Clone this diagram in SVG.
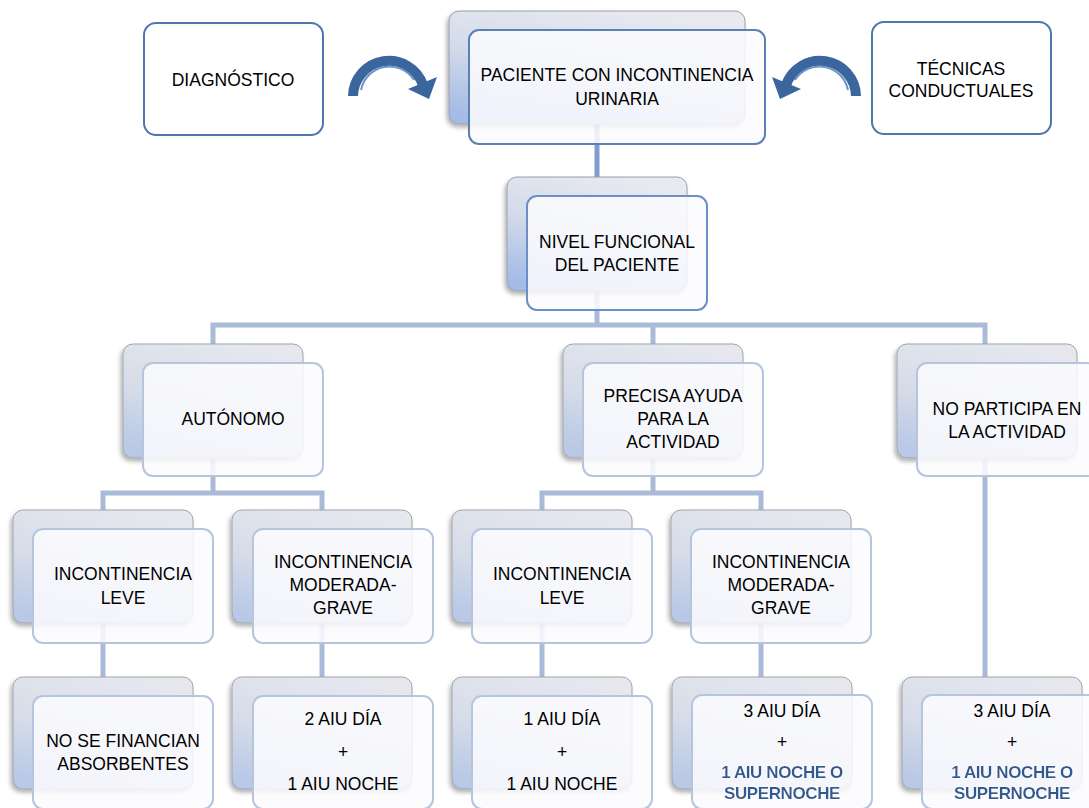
<svg xmlns="http://www.w3.org/2000/svg" width="1089" height="808" viewBox="0 0 1089 808">
<defs>
<linearGradient id="gBackStrong" x1="0.65" y1="0" x2="0.25" y2="1">
<stop offset="0" stop-color="#e8eaf0"/>
<stop offset="0.5" stop-color="#d2daea"/>
<stop offset="1" stop-color="#a3bbe6"/>
</linearGradient>
<linearGradient id="gBack" x1="0.65" y1="0" x2="0.25" y2="1">
<stop offset="0" stop-color="#e6e8ee"/>
<stop offset="0.55" stop-color="#d5dbe8"/>
<stop offset="1" stop-color="#b8c8e6"/>
</linearGradient>
<filter id="sh" x="-10%" y="-10%" width="120%" height="130%">
<feDropShadow dx="-2" dy="3" stdDeviation="2" flood-color="#000" flood-opacity="0.3"/>
</filter>
<filter id="glow" x="-10%" y="-30%" width="120%" height="160%">
<feDropShadow dx="0" dy="0" stdDeviation="1" flood-color="#ffffff" flood-opacity="1"/>
</filter>
</defs>
<style>
.back{fill:url(#gBack);stroke:#a0a4ad;stroke-width:1;filter:url(#sh)}
.backS{fill:url(#gBackStrong);stroke:#9a9ea8;stroke-width:1;filter:url(#sh)}
.front{fill:#fbfcfe;fill-opacity:0.86;stroke:#b6c5de;stroke-width:2}
.frontS{fill:#fbfcfe;fill-opacity:0.86;stroke:#5b80b6;stroke-width:2}
.side{fill:#ffffff;stroke:#4f77ad;stroke-width:2}
text{font-family:"Liberation Sans",Arial,sans-serif;font-size:17.5px;fill:#000;text-anchor:middle}
.b{font-weight:bold;fill:#2f5a92;font-size:17px;letter-spacing:-0.4px}
.c1{stroke:#7f9dcd;stroke-width:5;fill:none}
.c2{stroke:#a9bbd9;stroke-width:5;fill:none}
.arc{stroke:#3b669d;stroke-width:10;fill:none}
.arcH{stroke:#6a94c8;stroke-width:2;fill:none}
</style>
<rect x="0" y="0" width="1089" height="808" fill="#ffffff"/>

<g id="connectors">
<path class="c1" d="M597,124 V177"/>
<path class="c2" d="M597,292 V325 M213,344 V325 H985 V344 M653,325 V344"/>
<path class="c2" d="M213,458 V493 M103,510 V493 H322 V510"/>
<path class="c2" d="M653,458 V493 M542,510 V493 H761 V510"/>
<path class="c2" d="M103,623 V677 M322,623 V677 M542,623 V677 M761,623 V677"/>
<path class="c2" d="M985,458 V677"/>
<g id="arrow-left">
<path class="arc" d="M353,96 A36,36 0 0 1 423,85"/>
<path class="arcH" d="M361,90 A29,29 0 0 1 414,80"/>
<polygon points="437,77 408,89 429,99" fill="#3b669d"/>
</g>
<g id="arrow-right" transform="translate(1209,0) scale(-1,1)">
<path class="arc" d="M353,96 A36,36 0 0 1 423,85"/>
<path class="arcH" d="M361,90 A29,29 0 0 1 414,80"/>
<polygon points="437,77 408,89 429,99" fill="#3b669d"/>
</g>
</g>

<g id="n-diagnostico">
<rect class="side" x="144" y="23" width="179" height="112" rx="12"/>
<text x="233" y="86">DIAGNÓSTICO</text>
</g>
<g id="n-tecnicas">
<rect class="side" x="872" y="22" width="179" height="112" rx="12"/>
<text x="961" y="75">TÉCNICAS</text>
<text x="961" y="97">CONDUCTUALES</text>
</g>

<g id="n-paciente">
<rect class="backS" x="449" y="11" width="296" height="113" rx="10"/>
<rect class="frontS" x="469" y="30" width="296" height="114" rx="10"/>
<text x="617" y="81">PACIENTE CON INCONTINENCIA</text>
<text x="617" y="105">URINARIA</text>
</g>

<g id="n-nivel">
<rect class="backS" x="507" y="177" width="180" height="114" rx="10"/>
<rect class="frontS" x="527" y="196" width="180" height="114" rx="10" style="stroke:#6d8fc5"/>
<text x="617" y="248">NIVEL FUNCIONAL</text>
<text x="617" y="271">DEL PACIENTE</text>
</g>

<g id="n-autonomo">
<rect class="back" x="123" y="344" width="180" height="114" rx="10"/>
<rect class="front" x="143" y="363" width="180" height="113" rx="10"/>
<text x="233" y="425">AUTÓNOMO</text>
</g>

<g id="n-precisa">
<rect class="back" x="563" y="344" width="180" height="114" rx="10"/>
<rect class="front" x="583" y="363" width="180" height="113" rx="10"/>
<text x="673" y="402">PRECISA AYUDA</text>
<text x="673" y="425">PARA LA</text>
<text x="673" y="448">ACTIVIDAD</text>
</g>

<g id="n-noparticipa">
<rect class="back" x="897" y="344" width="180" height="114" rx="10"/>
<rect class="front" x="917" y="363" width="180" height="113" rx="10"/>
<text x="1007" y="415">NO PARTICIPA EN</text>
<text x="1007" y="438">LA ACTIVIDAD</text>
</g>

<g id="n-leve1">
<rect class="back" x="13" y="510" width="180" height="113" rx="10"/>
<rect class="front" x="33" y="529" width="180" height="114" rx="10"/>
<text x="123" y="580">INCONTINENCIA</text>
<text x="123" y="604">LEVE</text>
</g>

<g id="n-mod1">
<rect class="back" x="232" y="510" width="180" height="113" rx="10"/>
<rect class="front" x="253" y="529" width="180" height="114" rx="10"/>
<text x="343" y="568">INCONTINENCIA</text>
<text x="343" y="591">MODERADA-</text>
<text x="343" y="614">GRAVE</text>
</g>

<g id="n-leve2">
<rect class="back" x="452" y="510" width="180" height="113" rx="10"/>
<rect class="front" x="472" y="529" width="180" height="114" rx="10"/>
<text x="562" y="580">INCONTINENCIA</text>
<text x="562" y="604">LEVE</text>
</g>

<g id="n-mod2">
<rect class="back" x="671" y="510" width="180" height="113" rx="10"/>
<rect class="front" x="691" y="529" width="180" height="114" rx="10"/>
<text x="781" y="568">INCONTINENCIA</text>
<text x="781" y="591">MODERADA-</text>
<text x="781" y="614">GRAVE</text>
</g>

<g id="n-nofinancian">
<rect class="back" x="13" y="677" width="180" height="112" rx="10"/>
<rect class="front" x="33" y="696" width="180" height="113" rx="10"/>
<text x="123" y="747">NO SE FINANCIAN</text>
<text x="123" y="770">ABSORBENTES</text>
</g>

<g id="n-2aiu">
<rect class="back" x="232" y="677" width="180" height="112" rx="10"/>
<rect class="front" x="253" y="696" width="180" height="113" rx="10"/>
<text x="343" y="725">2 AIU DÍA</text>
<text x="343" y="758">+</text>
<text x="343" y="790">1 AIU NOCHE</text>
</g>

<g id="n-1aiu">
<rect class="back" x="452" y="677" width="180" height="112" rx="10"/>
<rect class="front" x="472" y="696" width="180" height="113" rx="10"/>
<text x="562" y="725">1 AIU DÍA</text>
<text x="562" y="758">+</text>
<text x="562" y="790">1 AIU NOCHE</text>
</g>

<g id="n-3aiu-a">
<rect class="back" x="672" y="677" width="180" height="112" rx="10"/>
<rect class="front" x="692" y="695" width="180" height="114" rx="10"/>
<text x="782" y="717">3 AIU DÍA</text>
<text x="782" y="748">+</text>
<text class="b" x="782" y="778" filter="url(#glow)">1 AIU NOCHE O</text>
<text class="b" x="782" y="799" filter="url(#glow)">SUPERNOCHE</text>
</g>

<g id="n-3aiu-b">
<rect class="back" x="902" y="677" width="180" height="112" rx="10"/>
<rect class="front" x="922" y="695" width="180" height="114" rx="10"/>
<text x="1012" y="717">3 AIU DÍA</text>
<text x="1012" y="748">+</text>
<text class="b" x="1012" y="778" filter="url(#glow)">1 AIU NOCHE O</text>
<text class="b" x="1012" y="799" filter="url(#glow)">SUPERNOCHE</text>
</g>
</svg>
